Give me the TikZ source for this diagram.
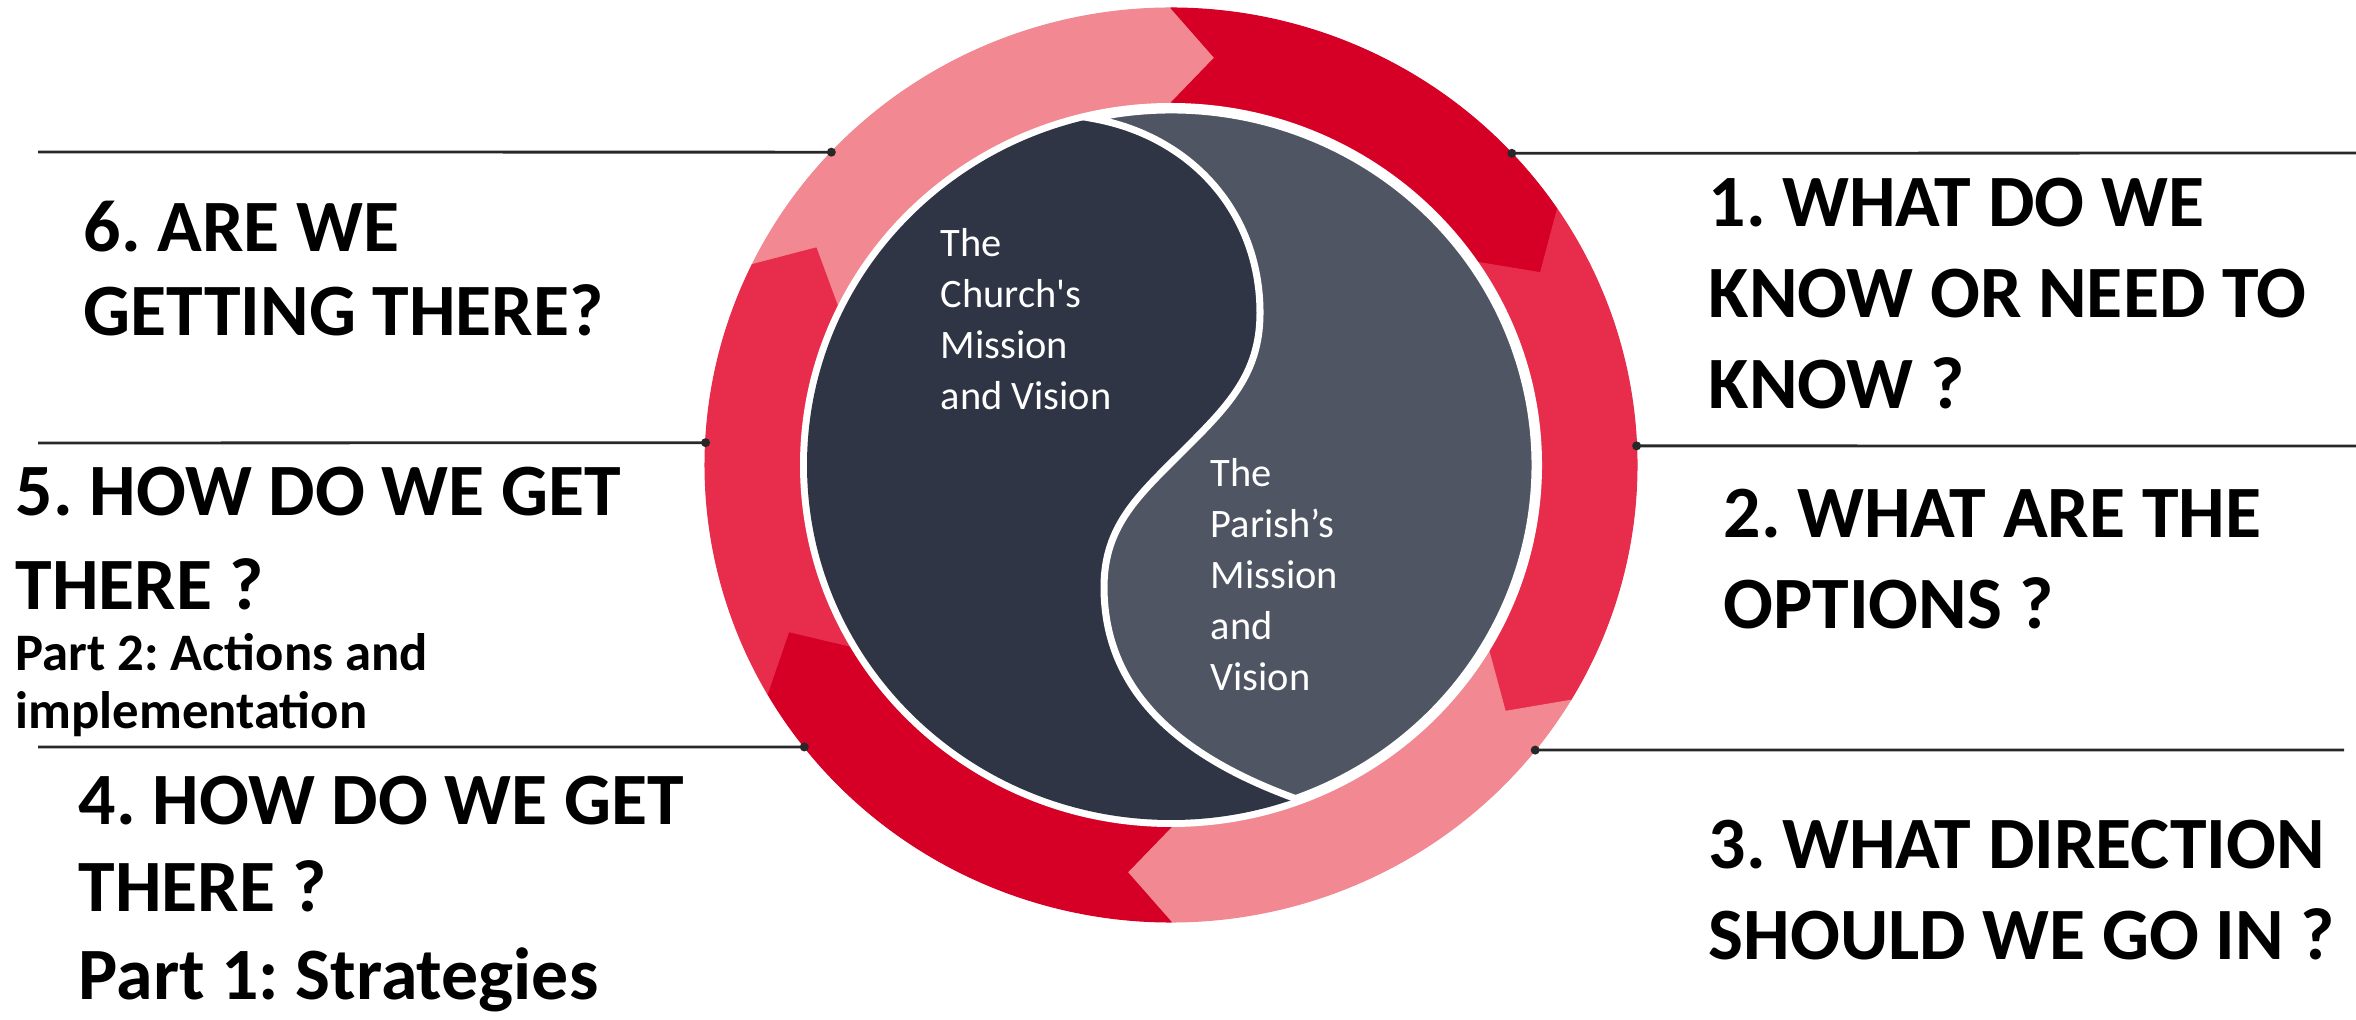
\documentclass[tikz,border=0pt]{standalone}
\usepackage{fontspec}
\setmainfont{Carlito}
\usepackage{tikz}

\definecolor{ringpink}{RGB}{242,136,145}
\definecolor{ringdark}{RGB}{214,0,38}
\definecolor{ringred}{RGB}{231,45,75}
\definecolor{church}{RGB}{47,53,69}
\definecolor{parish}{RGB}{80,85,99}
\definecolor{rulegray}{RGB}{40,40,40}

\begin{document}
\frenchspacing
\begin{tikzpicture}[
  question/.style={anchor=north west,inner sep=0pt,align=left,font=\fontsize{21}{26}\selectfont\bfseries},
  subquestion/.style={anchor=north west,inner sep=0pt,align=left,font=\fontsize{15}{16.5}\selectfont\bfseries},
  inlabel/.style={anchor=north west,inner sep=0pt,align=left,text=white,font=\fontsize{11.5}{14.5}\selectfont},
  guide/.style={rulegray,line width=0.8pt},
  seg/.style={line width=0.3pt,line join=round}]
\useasboundingbox[fill=white] (0,0) rectangle (23.56,10.19);
\coordinate (ctr) at (11.71,5.54);

% ring of arrows
\begin{scope}[shift={(ctr)}]
\filldraw[ringpink,seg] (154:4.66 and 4.57) arc (154:90:4.66 and 4.57) -- (84:4.185 and 4.095) -- (90:3.71 and 3.62) arc (90:154:3.71 and 3.62) -- (148:4.185 and 4.095) -- cycle;
\filldraw[ringdark,seg] (90:4.66 and 4.57) arc (90:34:4.66 and 4.57) -- (28:4.185 and 4.095) -- (34:3.71 and 3.62) arc (34:90:3.71 and 3.62) -- (84:4.185 and 4.095) -- cycle;
\filldraw[ringred,seg] (34:4.66 and 4.57) arc (34:-31:4.66 and 4.57) -- (-37:4.185 and 4.095) -- (-31:3.71 and 3.62) arc (-31:34:3.71 and 3.62) -- (28:4.185 and 4.095) -- cycle;
\filldraw[ringpink,seg] (-31:4.66 and 4.57) arc (-31:-90:4.66 and 4.57) -- (-96:4.185 and 4.095) -- (-90:3.71 and 3.62) arc (-90:-31:3.71 and 3.62) -- (-37:4.185 and 4.095) -- cycle;
\filldraw[ringdark,seg] (-90:4.66 and 4.57) arc (-90:-150:4.66 and 4.57) -- (-156:4.185 and 4.095) -- (-150:3.71 and 3.62) arc (-150:-90:3.71 and 3.62) -- (-96:4.185 and 4.095) -- cycle;
\filldraw[ringred,seg] (-150:4.66 and 4.57) arc (-150:-206:4.66 and 4.57) -- (-212:4.185 and 4.095) -- (-206:3.71 and 3.62) arc (-206:-150:3.71 and 3.62) -- (-156:4.185 and 4.095) -- cycle;

% disc
\fill[white] (0,0) ellipse (3.71 and 3.62);
\fill[church] (0,0) ellipse (3.64 and 3.55);
\filldraw[parish,draw=white,line width=2pt] (102.5:3.64 and 3.55) arc (102.5:-70:3.64 and 3.55)
  to[out=160,in=-90] (-0.67,-1.22) to[out=90,in=225] (0.13,0.15)
  to[out=45,in=-90] (0.89,1.52) to[out=90,in=-10] (102.5:3.64 and 3.55) -- cycle;
\end{scope}

\node[inlabel] (church) at (9.40,7.91) {The\\Church\textquotesingle s\\Mission\\and Vision};
\node[inlabel] (parishtxt) at (12.10,5.61) {The\\Parish’s\\Mission\\and\\Vision};

% guide lines
\coordinate (dA) at ([shift={(136.8:4.66 and 4.57)}]ctr);
\coordinate (dB) at ([shift={(177.2:4.66 and 4.57)}]ctr);
\coordinate (dC) at ([shift={(218.1:4.66 and 4.57)}]ctr);
\coordinate (dD) at ([shift={(43.0:4.66 and 4.57)}]ctr);
\coordinate (dE) at ([shift={(2.4:4.66 and 4.57)}]ctr);
\coordinate (dF) at ([shift={(-38.6:4.66 and 4.57)}]ctr);
\coordinate (eA) at (0.38,8.67);
\coordinate (eB) at (0.38,5.76);
\coordinate (eC) at (0.38,2.72);
\coordinate (eD) at (23.56,8.66);
\coordinate (eE) at (23.56,5.73);
\coordinate (eF) at (23.44,2.69);
\draw[guide] (eA) -- (dA); \fill[rulegray] (dA) circle (0.045);
\draw[guide] (eB) -- (dB); \fill[rulegray] (dB) circle (0.045);
\draw[guide] (eC) -- (dC); \fill[rulegray] (dC) circle (0.045);
\draw[guide] (dD) -- (eD); \fill[rulegray] (dD) circle (0.045);
\draw[guide] (dE) -- (eE); \fill[rulegray] (dE) circle (0.045);
\draw[guide] (dF) -- (eF); \fill[rulegray] (dF) circle (0.045);

% questions
\node[question] (q1) at (17.08,8.42) {1. WHAT DO WE\\KNOW OR NEED TO\\KNOW ?};
\node[question] (q2) at (17.23,5.31) {2. WHAT ARE THE\\OPTIONS ?};
\node[question] (q3) at (17.08,2.00) {3. WHAT DIRECTION\\SHOULD WE GO IN ?};
\node[question,font=\fontsize{21}{24}\selectfont\bfseries] (q6) at (0.83,8.19) {6. ARE WE\\GETTING THERE?};
\node[question,font=\fontsize{21}{27}\selectfont\bfseries] (q5) at (0.15,5.53) {5. HOW DO WE GET\\THERE ?};
\node[subquestion] (q5part) at (0.15,3.86) {Part 2: Actions and\\implementation};
\node[question,font=\fontsize{21}{25}\selectfont\bfseries] (q4) at (0.78,2.44) {4. HOW DO WE GET\\THERE ?\\Part 1: Strategies};

\end{tikzpicture}
\end{document}
